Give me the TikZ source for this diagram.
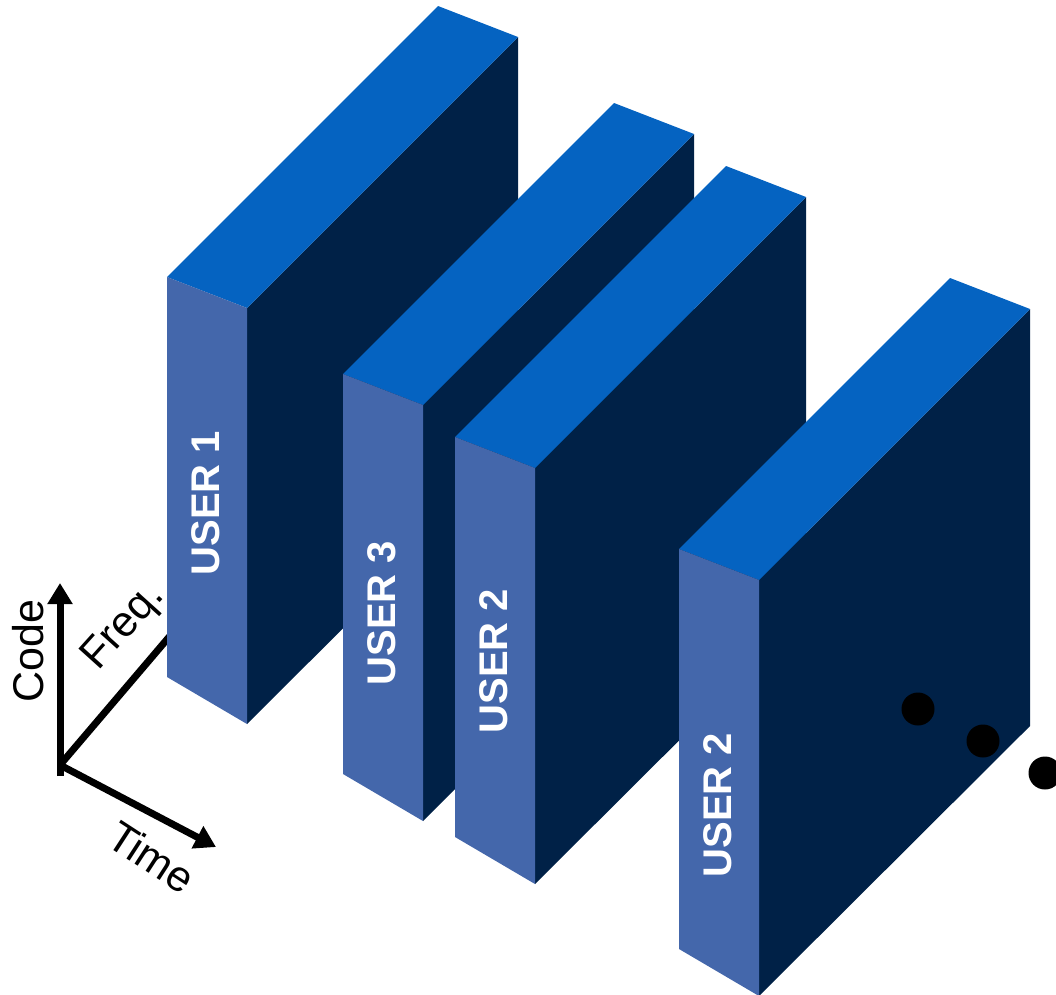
\documentclass[tikz,border=0pt]{standalone}
\usepackage{fontspec}
\setmainfont{Liberation Sans}
\usetikzlibrary{arrows.meta}
\definecolor{topc}{HTML}{0563C1}
\definecolor{frontc}{HTML}{4467AB}
\definecolor{sidec}{HTML}{002147}
\tikzset{
  axis/.style={line width=7pt, -{Triangle[length=21pt,width=24pt]}},
  axisline/.style={line width=7pt},
  axlabel/.style={font=\fontsize{43}{43}\selectfont, inner sep=0pt},
  userlabel/.style={font=\fontsize{40}{40}\selectfont\bfseries, text=white, rotate=90, inner sep=0pt},
  dot/.style={circle, fill=black, minimum size=33pt, inner sep=0pt},
}
% slab with front top-left corner at (#1,#2)
\newcommand{\drawslab}[2]{%
  \fill[sidec] (#1+80,#2+31) -- (#1+351,#2-240) -- (#1+351,#2+177) -- (#1+80,#2+447) -- cycle;
  \fill[topc] (#1,#2) -- (#1+271,#2-271) -- (#1+351,#2-240) -- (#1+80,#2+31) -- cycle;
  \fill[frontc] (#1,#2) -- (#1+80,#2+31) -- (#1+80,#2+447) -- (#1,#2+400) -- cycle;
}
\begin{document}
\begin{tikzpicture}[x=1pt,y=-1pt]
\useasboundingbox (0,0) rectangle (1056,994);
\clip (0,0) rectangle (1056,994);
% axes
\coordinate (O) at (60,765);
\coordinate (Obot) at (60,776);
\coordinate (C) at (60,583);
\coordinate (F) at (175,630);
\coordinate (T) at (216,847);
\draw[axisline] (O) -- (F);
\draw[axis] (Obot) -- (C);
\draw[axis] (O) -- (T);
\node[axlabel, rotate=90] (code) at (28,651) {Code};
\node[axlabel, rotate=48] (freq) at (124,627) {Freq.};
\node[axlabel, rotate=-33] (time) at (152,857) {Time};
% slabs
\drawslab{167}{277}
\node[userlabel] (u1) at (206,503) {USER 1};
\drawslab{343}{374}
\node[userlabel] (u3) at (382,613) {USER 3};
\drawslab{455}{437}
\node[userlabel] (u2a) at (494,661) {USER 2};
\drawslab{679}{549}
\node[userlabel] (u2b) at (718,805) {USER 2};
% dots
\node[dot] (d1) at (918,709) {};
\node[dot] (d2) at (983,741) {};
\node[dot] (d3) at (1045,773) {};
\end{tikzpicture}
\end{document}
